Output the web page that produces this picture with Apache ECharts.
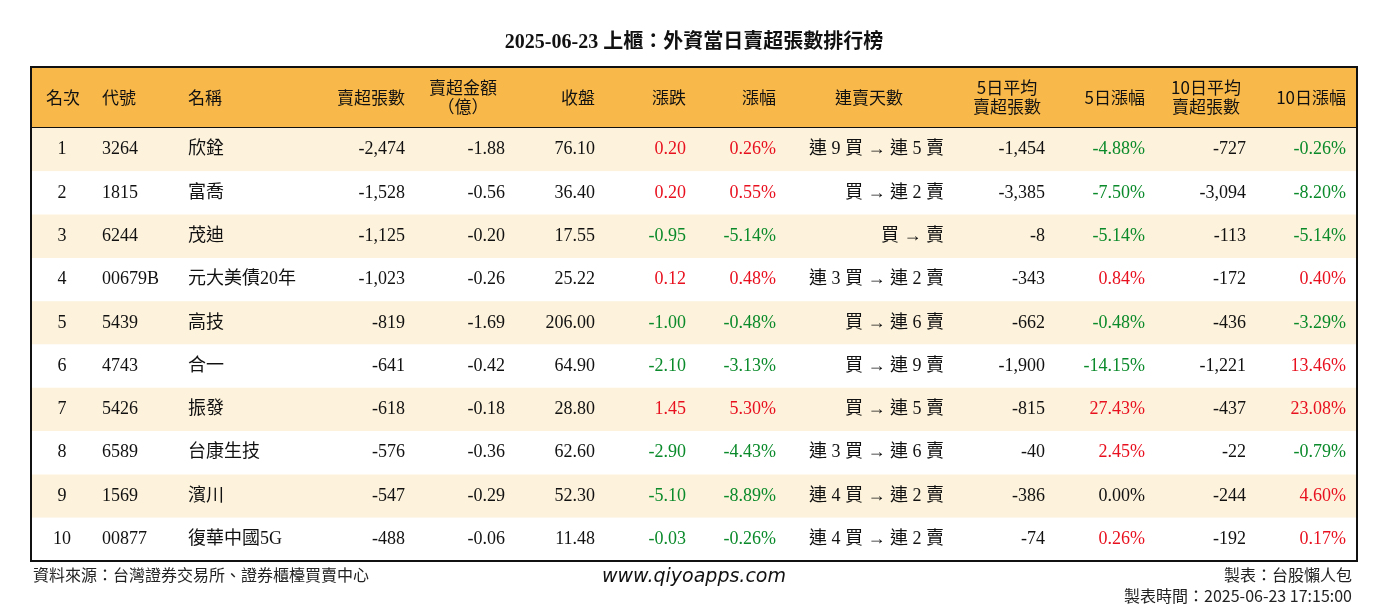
<!DOCTYPE html>
<html><head><meta charset="utf-8">
<script src="https://cdn.jsdelivr.net/npm/echarts@6/dist/echarts.min.js"></script>
<style>html,body{margin:0;padding:0;background:#fff}#c{width:1388px;height:612px}</style>
</head><body><div id="c"></div>
<script>
const headers = ['名次','代號','名稱','賣超張數','賣超金額\n（億）','收盤','漲跌','漲幅','連賣天數','5日平均\n賣超張數','5日漲幅','10日平均\n賣超張數','10日漲幅'];
const ranks = [1,2,3,4,5,6,7,8,9,10];
const codes = ['3264','1815','6244','00679B','5439','4743','5426','6589','1569','00877'];
const names = ['欣銓','富喬','茂迪','元大美債20年','高技','合一','振發','台康生技','濱川','復華中國5G'];
const sellLots = [-2474,-1528,-1125,-1023,-819,-641,-618,-576,-547,-488];
const sellAmt = [-1.88,-0.56,-0.20,-0.26,-1.69,-0.42,-0.18,-0.36,-0.29,-0.06];
const closes = [76.10,36.40,17.55,25.22,206.00,64.90,28.80,62.60,52.30,11.48];
const changes = [0.20,0.20,-0.95,0.12,-1.00,-2.10,1.45,-2.90,-5.10,-0.03];
const pcts = [0.26,0.55,-5.14,0.48,-0.48,-3.13,5.30,-4.43,-8.89,-0.26];
const streaks = ['連 9 買 → 連 5 賣','買 → 連 2 賣','買 → 賣','連 3 買 → 連 2 賣','買 → 連 6 賣','買 → 連 9 賣','買 → 連 5 賣','連 3 買 → 連 6 賣','連 4 買 → 連 2 賣','連 4 買 → 連 2 賣'];
const avg5 = [-1454,-3385,-8,-343,-662,-1900,-815,-40,-386,-74];
const pct5 = [-4.88,-7.50,-5.14,0.84,-0.48,-14.15,27.43,2.45,0.00,0.26];
const avg10 = [-727,-3094,-113,-172,-436,-1221,-437,-22,-244,-192];
const pct10 = [-0.26,-8.20,-5.14,0.40,-3.29,13.46,23.08,-0.79,4.60,0.17];

const colX =   [62,102,188,405,505,595,686,776,944,1045,1145,1246,1346];
const colAl =  ['center','left','left','right','right','right','right','right','right','right','right','right','right'];
const hX =     [63,102,188,405,463,595,686,776,869,1007,1145,1206,1346];
const hAl =    ['center','left','left','right','center','right','right','right','center','center','right','center','right'];
const HEAD = 61, ROW = 43.3;
const RED = '#e8101e', GREEN = '#0a8a2a';
const fmtInt = v => v.toLocaleString('en-US');
const sc = v => v > 0 ? RED : (v < 0 ? GREEN : '#111');

function rowCells(i){
  return [
    [String(ranks[i]),'#111'],[codes[i],'#111'],[names[i],'#111'],
    [fmtInt(sellLots[i]),'#111'],[sellAmt[i].toFixed(2),'#111'],[closes[i].toFixed(2),'#111'],
    [changes[i].toFixed(2),sc(changes[i])],[pcts[i].toFixed(2)+'%',sc(pcts[i])],
    [streaks[i],'#111'],[fmtInt(avg5[i]),'#111'],[pct5[i].toFixed(2)+'%',sc(pct5[i])],
    [fmtInt(avg10[i]),'#111'],[pct10[i].toFixed(2)+'%',sc(pct10[i])]
  ];
}
const FONT = '"Liberation Serif","Noto Sans CJK TC",serif';
const rowData = [-1].concat(ranks.map((r,i)=>i));
const chart = echarts.init(document.getElementById('c'));
chart.setOption({
  animation:false,
  title:{text:'2025-06-23 上櫃：外資當日賣超張數排行榜',left:'center',top:28,
    textStyle:{fontFamily:FONT,fontSize:20,fontWeight:'bold',color:'#111'}},
  grid:{left:31,right:31,top:67,bottom:51},
  xAxis:{type:'value',min:31,max:1357,show:false},
  yAxis:{type:'value',min:0,max:HEAD+ROW*10,inverse:true,show:false},
  graphic:[
    {type:'text',left:33,top:567,style:{text:'資料來源：台灣證券交易所、證券櫃檯買賣中心',font:'16px "Noto Sans CJK TC"',fill:'#222'}},
    {type:'text',left:'center',top:568,style:{text:'www.qiyoapps.com',font:'italic 19px "DejaVu Sans"',fill:'#111'}},
    {type:'text',right:36,top:567,style:{text:'製表：台股懶人包',font:'16px "Noto Sans CJK TC"',fill:'#222'}},
    {type:'text',right:36,top:588,style:{text:'製表時間：2025-06-23 17:15:00',font:'16px "Noto Sans CJK TC"',fill:'#222'}}
  ],
  series:[{
    type:'custom',data:rowData.map(v=>[v]),
    renderItem:function(params,api){
      const i = api.value(0);
      const children = [];
      const y0 = i<0 ? 0 : HEAD+ROW*i, h = i<0 ? HEAD : ROW;
      const p0 = api.coord([31,y0]), p1 = api.coord([1357,y0+h]);
      const bg = i<0 ? '#f8b84a' : (i%2===0 ? '#fdf2db' : '#ffffff');
      children.push({type:'rect',shape:{x:p0[0],y:p0[1],width:p1[0]-p0[0],height:p1[1]-p0[1]},style:{fill:bg}});
      const cy = (p0[1]+p1[1])/2;
      if(i<0){
        headers.forEach((t,c)=>{
          const x = api.coord([hX[c],0])[0];
          children.push({type:'text',style:{text:t,x:x,y:cy,align:hAl[c],verticalAlign:'middle',
            font:'17px "Noto Sans CJK TC"',fill:'#111',lineHeight:19}});
        });
        children.push({type:'line',shape:{x1:p0[0],y1:p1[1],x2:p1[0],y2:p1[1]},style:{stroke:'#111',lineWidth:2}});
      } else {
        rowCells(i).forEach((cell,c)=>{
          const x = api.coord([colX[c],0])[0];
          children.push({type:'text',style:{text:cell[0],x:x,y:cy,align:colAl[c],verticalAlign:'middle',
            font:'18px '+FONT,fill:cell[1]}});
        });
      }
      if(i===9){
        const t = api.coord([31,0]);
        children.push({type:'rect',shape:{x:t[0],y:t[1],width:p1[0]-t[0],height:p1[1]-t[1]},style:{fill:'none',stroke:'#111',lineWidth:2}});
      }
      return {type:'group',children:children};
    }
  }]
});
</script></body></html>
